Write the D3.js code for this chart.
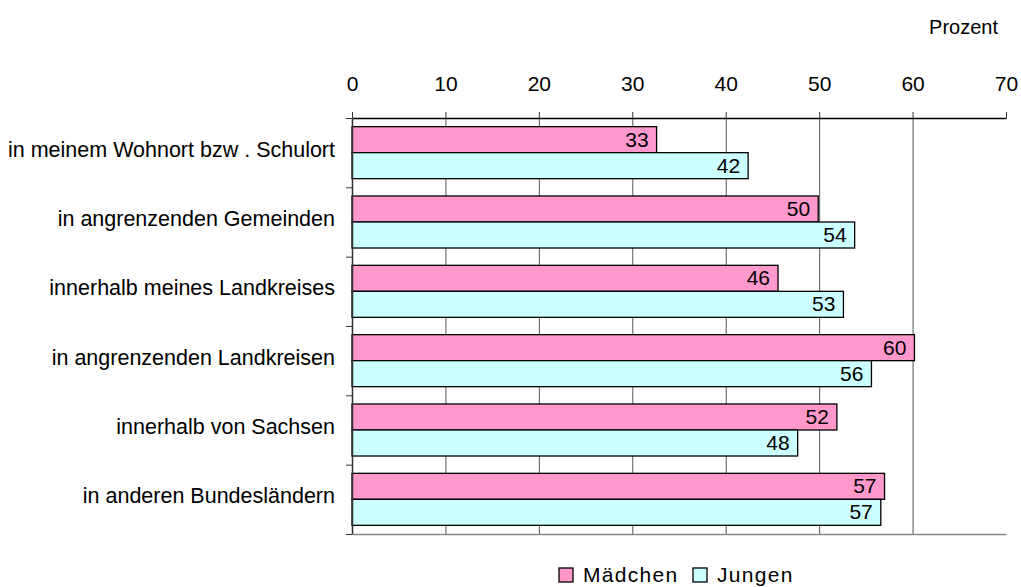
<!DOCTYPE html>
<html lang="de">
<head>
<meta charset="UTF-8">
<title>Prozent – Mädchen / Jungen</title>
<script src="https://d3js.org/d3.v7.min.js"></script>
<style>
    body { margin: 0; background: #fff; }
    svg text { font-family: "Liberation Sans", Arial, sans-serif; fill: #000; }
</style>
</head>
<body>
<div id="chart"></div>
<script>
// data
const categories = [
    "in meinem Wohnort bzw . Schulort",
    "in angrenzenden Gemeinden",
    "innerhalb meines Landkreises",
    "in angrenzenden Landkreisen",
    "innerhalb von Sachsen",
    "in anderen Bundesländern"
]
const series = ["Mädchen", "Jungen"]
const maedchen = [32.6, 49.9, 45.6, 60.2, 51.9, 57.0]
const jungen = [42.4, 53.8, 52.6, 55.6, 47.7, 56.6]
const xTicks = [0, 10, 20, 30, 40, 50, 60, 70]

const colors = { "Mädchen": "#ff99cc", "Jungen": "#ccffff" }

const width = 1021, height = 587
const plot = { left: 352, right: 1006, top: 118, bottom: 534 }

const svg = d3.select("#chart").append("svg")
    .attr("width", width)
    .attr("height", height)

// scales
const x = d3.scaleLinear().domain([0, 70]).range([plot.left, plot.right])
const y = d3.scaleBand().domain(categories).range([plot.top, plot.bottom]).padding(0)
const ySub = d3.scaleBand().domain(series).range([0, y.bandwidth()])
    .paddingInner(0).paddingOuter(1 / 3)
const yEdge = d3.scaleLinear().domain([0, categories.length]).range([plot.top, plot.bottom])

// gridlines
const grid = svg.append("g")
    .attr("transform", `translate(0,${plot.top})`)
    .call(d3.axisTop(x).tickValues(xTicks.slice(1, -1)).tickSize(-(plot.bottom - plot.top)).tickFormat(""))
grid.select(".domain").remove()
grid.selectAll("line").attr("stroke", "#555")

// bottom line
const bottomAxis = svg.append("g")
    .attr("transform", `translate(0,${plot.bottom})`)
    .call(d3.axisBottom(x).tickValues([]).tickSizeOuter(0))
bottomAxis.select(".domain").attr("stroke", "#888").attr("stroke-width", 1.5)

// bars
const rows = categories.map((c, i) => ({ cat: c, values: [
    { s: "Mädchen", v: maedchen[i] },
    { s: "Jungen", v: jungen[i] }
]}))

const groups = svg.append("g").selectAll("g")
    .data(rows)
    .join("g")
    .attr("transform", d => `translate(0,${y(d.cat)})`)

groups.selectAll("rect")
    .data(d => d.values)
    .join("rect")
    .attr("x", x(0))
    .attr("y", d => ySub(d.s))
    .attr("width", d => x(d.v) - x(0))
    .attr("height", ySub.bandwidth())
    .attr("fill", d => colors[d.s])
    .attr("stroke", "#000")
    .attr("stroke-width", 1.3)

groups.selectAll("text")
    .data(d => d.values)
    .join("text")
    .attr("x", d => x(d.v) - 8)
    .attr("y", d => ySub(d.s) + ySub.bandwidth() / 2 + 7)
    .attr("text-anchor", "end")
    .style("font-size", "21px")
    .text(d => Math.round(d.v))

// top axis
const topAxis = svg.append("g")
    .attr("transform", `translate(0,${plot.top})`)
    .call(d3.axisTop(x).tickValues(xTicks).tickSize(6).tickSizeOuter(0).tickPadding(21))
topAxis.select(".domain").attr("stroke", "#000").attr("stroke-width", 1.5)
topAxis.selectAll("line").attr("stroke", "#333")
topAxis.selectAll("text")
    .style("font-size", "21px")
    .style("font-family", "'Liberation Sans', Arial, sans-serif")
    .attr("fill", "#000")

// left axis with ticks at category edges
const leftAxis = svg.append("g")
    .attr("transform", `translate(${plot.left},0)`)
    .call(d3.axisLeft(yEdge).ticks(categories.length).tickSize(6).tickSizeOuter(0).tickFormat(""))
leftAxis.select(".domain").attr("stroke", "#333").attr("stroke-width", 1.5)
leftAxis.selectAll("line").attr("stroke", "#333")

// category labels
svg.append("g").selectAll("text")
    .data(categories)
    .join("text")
    .attr("x", 335)
    .attr("y", d => y(d) + y.bandwidth() / 2 + 4)
    .attr("text-anchor", "end")
    .style("font-size", "21.5px")
    .text(d => d)

// unit label
svg.append("text")
    .attr("x", 998)
    .attr("y", 34)
    .attr("text-anchor", "end")
    .style("font-size", "20px")
    .text("Prozent")

// legend
const legendX = [559, 693]
const legend = svg.append("g").selectAll("g")
    .data(series)
    .join("g")
    .attr("transform", (d, i) => `translate(${legendX[i]},568)`)
legend.append("rect")
    .attr("width", 14).attr("height", 14)
    .attr("fill", d => colors[d])
    .attr("stroke", "#000")
    .attr("stroke-width", 1.3)
legend.append("text")
    .attr("x", 24)
    .attr("y", 14)
    .style("font-size", "21px")
    .style("letter-spacing", "1.3px")
    .text(d => d)
</script>
</body>
</html>
